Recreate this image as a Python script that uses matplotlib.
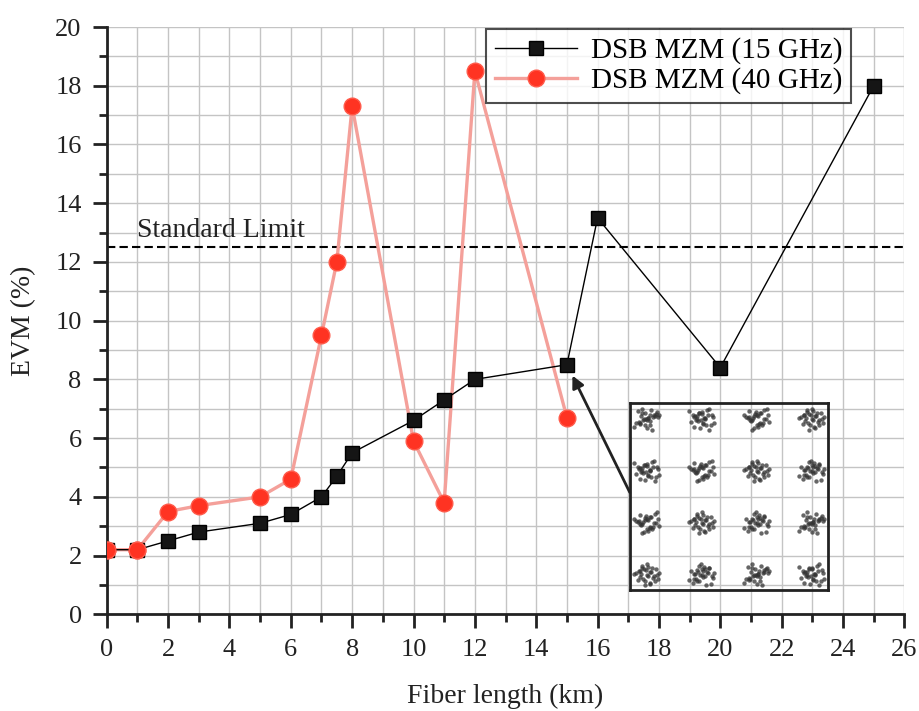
import matplotlib.pyplot as plt
from matplotlib.ticker import MultipleLocator

plt.rcParams["font.family"] = ["Liberation Serif", "DejaVu Serif"]

# --------------------

x_15 = [0, 1, 2, 3, 5, 6, 7, 7.5, 8, 10, 11, 12, 15, 16, 20, 25]
evm_15 = [2.2, 2.2, 2.5, 2.8, 3.1, 3.4, 4.0, 4.7, 5.5, 6.6, 7.3, 8.0, 8.5, 13.5, 8.4, 18.0]

x_40 = [0, 1, 2, 3, 5, 6, 7, 7.5, 8, 10, 11, 12, 15]
evm_40 = [2.2, 2.2, 3.5, 3.7, 4.0, 4.6, 9.5, 12.0, 17.3, 5.9, 3.8, 18.5, 6.7]

standard_limit = 12.5

# 16-QAM constellation for the inset
levels = [-3, -1, 1, 3]
cluster_dx = [0.00, 0.12, -0.10, 0.20, -0.22, 0.05, -0.05, 0.15, -0.15, 0.28,
              -0.30, 0.08, -0.08, 0.22, -0.18, 0.02, 0.35, -0.25, 0.10, -0.12,
              0.04, -0.02, 0.18, -0.35, 0.26, -0.06, 0.09, -0.14, 0.31, -0.20]
cluster_dy = [0.00, 0.08, -0.12, -0.05, 0.10, 0.22, -0.20, 0.18, 0.03, -0.02,
              0.06, -0.25, 0.15, -0.18, -0.08, 0.30, 0.04, -0.15, -0.28, 0.25,
              -0.04, 0.12, -0.10, 0.02, 0.16, -0.32, 0.07, 0.20, -0.14, 0.11]

# --------------------

fig = plt.figure(figsize = (9.2, 7.11), dpi = 100)
ax = fig.add_axes([0.116, 0.136, 0.867, 0.826])

ax.plot(x_40, evm_40, color = "#f4a09a", linewidth = 2.4, marker = "o",
        markersize = 12, markerfacecolor = "#ff3322", markeredgecolor = "#ff5a4a",
        label = "DSB MZM (40 GHz)", zorder = 3)
ax.plot(x_15, evm_15, color = "black", linewidth = 1.0, marker = "s",
        markersize = 10, markerfacecolor = "#151515", markeredgecolor = "black",
        label = "DSB MZM (15 GHz)", zorder = 4)
# red circles at 0 and 1 km sit on top of the black squares
ax.plot(x_40[:2], evm_40[:2], linestyle = "none", marker = "o", markersize = 12,
        markerfacecolor = "#ff3322", markeredgecolor = "#ff5a4a", zorder = 5)

ax.axhline(standard_limit, color = "black", linestyle = (0, (4, 2)), linewidth = 1.5, zorder = 2)
ax.text(1.0, 12.85, "Standard Limit", fontsize = 20, color = "#222222")

ax.set_xlim(0, 26)
ax.set_ylim(0, 20)
ax.xaxis.set_major_locator(MultipleLocator(2))
ax.xaxis.set_minor_locator(MultipleLocator(1))
ax.yaxis.set_major_locator(MultipleLocator(2))
ax.yaxis.set_minor_locator(MultipleLocator(1))
ax.grid(which = "both", color = "#c4c4c4", linewidth = 1.0, zorder = 0)
ax.set_axisbelow(True)

for side in ["top", "right"]:
    ax.spines[side].set_visible(False)
for side in ["left", "bottom"]:
    ax.spines[side].set_linewidth(2)
    ax.spines[side].set_color("#222222")

ax.tick_params(which = "major", direction = "out", length = 10, width = 2, labelsize = 19,
               colors = "#222222", pad = 8)
ax.tick_params(which = "minor", direction = "out", length = 6, width = 2, colors = "#222222")

ax.set_xlabel("Fiber length (km)", fontsize = 20, labelpad = 16, color = "#222222")
ax.set_ylabel("EVM (%)", fontsize = 20, labelpad = 14, color = "#222222")

handles, labels = ax.get_legend_handles_labels()
leg = ax.legend(handles[::-1], labels[::-1], loc = "upper right", bbox_to_anchor = (0.952, 1.022),
                fontsize = 21, frameon = True, fancybox = False, edgecolor = "#222222",
                handlelength = 2.8, borderpad = 0.3, labelspacing = 0.1, handletextpad = 0.5)
leg.get_frame().set_linewidth(1.5)

# Inset constellation
ins = fig.add_axes([0.685, 0.17, 0.215, 0.263])
ins.patch.set_alpha(0)
for i, yv in enumerate(levels):
    for j, xv in enumerate(levels):
        k = (i * 4 + j) * 3 % len(cluster_dx)
        dx = cluster_dx[k:] + cluster_dx[:k]
        dy = cluster_dy[-k:] + cluster_dy[:-k] if k else cluster_dy
        ins.scatter([xv + 1.3 * d for d in dx], [yv + 1.3 * d for d in dy], s = 10,
                    color = "#333333", alpha = 0.75, linewidths = 0)
ins.set_xlim(-3.6, 3.6)
ins.set_ylim(-3.6, 3.6)
ins.set_xticks([])
ins.set_yticks([])
for s in ins.spines.values():
    s.set_linewidth(2)
    s.set_color("#222222")

ax.annotate("", xy = (15.1, 8.3), xytext = (17.05, 4.15),
            arrowprops = dict(arrowstyle = "-|>", color = "#222222", lw = 2, mutation_scale = 18,
                              shrinkA = 0, shrinkB = 4),
            zorder = 6)

fig.savefig("out.png", dpi = 100)
